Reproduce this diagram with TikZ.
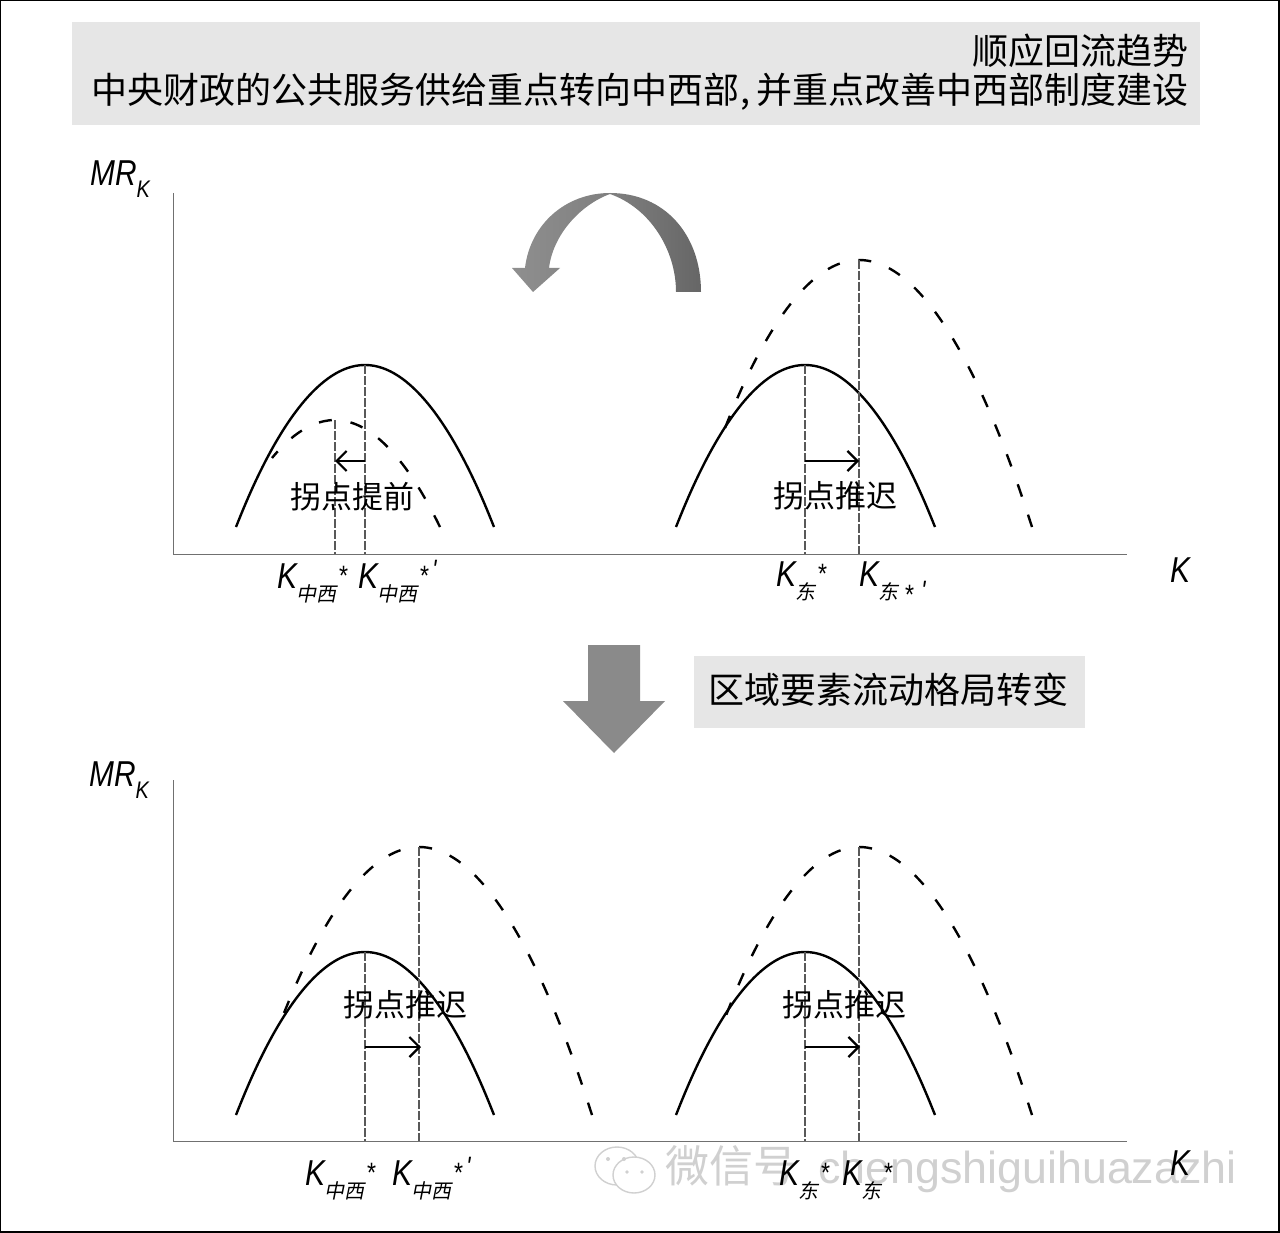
\documentclass[tikz,border=0pt]{standalone}
\usepackage{fontspec}
\usetikzlibrary{arrows.meta}
\setmainfont{Liberation Sans}
\newfontfamily\cjk{Noto Sans CJK SC}
\newfontfamily\subcjk[FakeSlant=0.2]{Noto Sans CJK SC}
\newfontfamily\kfont[FakeStretch=0.83]{Liberation Sans Italic}
\definecolor{boxgray}{HTML}{E6E6E6}
\definecolor{axisgray}{HTML}{707070}
\definecolor{markgray}{HTML}{D0D0D0}
\newcommand{\kmark}[3]{K\hspace{-1pt}\raisebox{-13pt}{\fontsize{20}{22}\subcjk #1}\hspace{2pt}\raisebox{#2}{\fontsize{28}{30}\kfont *\hspace{4pt}#3}}
\begin{document}
\begin{tikzpicture}[x=1pt,y=-1pt,
	axisline/.style = {draw=axisgray, line width=1pt},
	curveline/.style = {line width=2.4pt},
	dashcurve/.style = {line width=2.4pt, dash pattern=on 13pt off 19pt},
	guide/.style = {draw=black!65, line width=1.1pt, dash pattern=on 9pt off 2pt},
	kshift/.style = {line width=2.2pt, -{Straight Barb[length=10pt,width=20pt]}},
	turntext/.style = {font=\fontsize{31}{34}\cjk, inner sep=0pt},
	headtext/.style = {font=\fontsize{36}{40}\cjk, inner sep=0pt},
	kmain/.style = {font=\fontsize{36}{40}\kfont, anchor=base west, inner sep=0pt},
	blockgray/.style = {fill=black!46, draw=none}]
	\useasboundingbox (0,0) rectangle (1280,1233);
	\draw[line width=1.6pt] (0.5,0.5) rectangle (1279,1232);

	\fill[boxgray] (72,22) rectangle (1200,125);
	\fill[boxgray] (694,656) rectangle (1085,728);
	\node[headtext, anchor=east] (title1) at (1189,51) {顺应回流趋势};
	\node[headtext, anchor=east] (title2) at (1189,92) {中央财政的公共服务供给重点转向中西部{\kern1pt,\kern6pt}并重点改善中西部制度建设};
	\node[headtext] (flow) at (888,690) {区域要素流动格局转变};

	% watermark
	\draw[markgray, line width=1.4pt] (617,1166) ellipse (22pt and 19pt);
	\draw[markgray, line width=1.4pt, fill=white] (634,1175) ellipse (21pt and 18pt);
	\fill[markgray] (608,1159) circle (2pt) (624,1159) circle (2pt) (627,1172) circle (1.8pt) (642,1172) circle (1.8pt);
	\node[font=\fontsize{44}{48}\cjk, text=markgray, anchor=base west, inner sep=0pt] (markcn) at (665,1182) {微信号};
	\node[font=\fontsize{44.8}{48}\selectfont, text=markgray, anchor=base west, inner sep=0pt] (markname) at (818,1183) {chengshiguihuazazhi};

	% upper panel
	\coordinate (o1) at (173,554);
	\coordinate (y1) at (173,193);
	\coordinate (x1) at (1127,554);
	\draw[axisline] (y1) -- (o1) -- (x1);
	\node[kmain] (mr1) at (90,186) {MR\raisebox{-12pt}{\fontsize{24}{26}\kfont K}};
	\node[kmain] (k1) at (1170,582) {K};

	\coordinate (a1l) at (236,527);
	\coordinate (a1t) at (365,365);
	\coordinate (a1r) at (494,527);
	\coordinate (a1f) at (365,554);
	\coordinate (b1l) at (272,458);
	\coordinate (b1t) at (335,420);
	\coordinate (b1r) at (440,527);
	\coordinate (b1f) at (335,554);
	\coordinate (c1l) at (676,527);
	\coordinate (c1t) at (805,365);
	\coordinate (c1r) at (935,527);
	\coordinate (c1f) at (805,554);
	\coordinate (d1l) at (725,428);
	\coordinate (d1t) at (859,260);
	\coordinate (d1r) at (1032,527);
	\coordinate (d1f) at (859,554);
	\draw[curveline] (a1l) parabola bend (a1t) (a1r);
	\draw[curveline] (c1l) parabola bend (c1t) (c1r);
	\draw[dashcurve] (b1r) parabola bend (b1t) (b1l);
	\draw[dashcurve] (d1r) parabola bend (d1t) (d1l);
	\draw[guide] (a1t) -- (a1f);
	\draw[guide] (b1t) -- (b1f);
	\draw[guide] (c1t) -- (c1f);
	\draw[guide] (d1t) -- (d1f);

	\coordinate (s1a) at (365,461);
	\coordinate (s1b) at (335,461);
	\coordinate (s2a) at (805,461);
	\coordinate (s2b) at (859,461);
	\draw[kshift] (s1a) -- (s1b);
	\draw[kshift] (s2a) -- (s2b);
	\node[turntext] (t1) at (352,497) {拐点提前};
	\node[turntext] (t2) at (835.5,496) {拐点推迟};

	\node[kmain] (k1a) at (277,588) {\kmark{中西}{3pt}{}};
	\node[kmain] (k1b) at (358,588) {\kmark{中西}{3pt}{\raisebox{6pt}{'}}};
	\node[kmain] (k1c) at (776,586) {\kmark{东}{3pt}{}};
	\node[kmain] (k1d) at (859,586) {\kmark{东\hspace{4pt}}{-18pt}{\hspace{4pt}\raisebox{4pt}{'}}};

	% turning arrow
	\shade[left color=black!44, right color=black!50] (610,193) .. controls (565,193) and (530,225) .. (525,268)
		-- (512,268) -- (533,292) -- (560,268) -- (549,268)
		.. controls (553,235) and (580,205) .. (610,194) -- cycle;
	\shade[left color=black!50, right color=black!60] (610,193) .. controls (665,193) and (701,235) .. (701,292)
		-- (676,292) .. controls (676,250) and (650,208) .. (610,194) -- cycle;

	% down arrow
	\fill[blockgray] (588,645) -- (640,645) -- (640,701) -- (665,701) -- (614,753) -- (563,701) -- (588,701) -- cycle;

	% lower panel
	\coordinate (o2) at (173,1141);
	\coordinate (y2) at (173,780);
	\coordinate (x2) at (1127,1141);
	\draw[axisline] (y2) -- (o2) -- (x2);
	\node[kmain] (mr2) at (89,786) {MR\raisebox{-12pt}{\fontsize{24}{26}\kfont K}};
	\node[kmain] (k2) at (1170,1175) {K};

	\coordinate (a2l) at (236,1115);
	\coordinate (a2t) at (365,952);
	\coordinate (a2r) at (494,1115);
	\coordinate (a2f) at (365,1141);
	\coordinate (b2l) at (282,1018);
	\coordinate (b2t) at (419,847);
	\coordinate (b2r) at (592,1115);
	\coordinate (b2f) at (419,1141);
	\coordinate (c2l) at (676,1115);
	\coordinate (c2t) at (805,952);
	\coordinate (c2r) at (935,1115);
	\coordinate (c2f) at (805,1141);
	\coordinate (d2l) at (725,1018);
	\coordinate (d2t) at (859,847);
	\coordinate (d2r) at (1032,1115);
	\coordinate (d2f) at (859,1141);
	\draw[curveline] (a2l) parabola bend (a2t) (a2r);
	\draw[curveline] (c2l) parabola bend (c2t) (c2r);
	\draw[dashcurve] (b2r) parabola bend (b2t) (b2l);
	\draw[dashcurve] (d2r) parabola bend (d2t) (d2l);
	\draw[guide] (a2t) -- (a2f);
	\draw[guide] (b2t) -- (b2f);
	\draw[guide] (c2t) -- (c2f);
	\draw[guide] (d2t) -- (d2f);

	\coordinate (s3a) at (365,1047);
	\coordinate (s3b) at (421,1047);
	\coordinate (s4a) at (805,1047);
	\coordinate (s4b) at (860,1047);
	\draw[kshift] (s3a) -- (s3b);
	\draw[kshift] (s4a) -- (s4b);
	\node[turntext] (t3) at (405.5,1005) {拐点推迟};
	\node[turntext] (t4) at (844.5,1005) {拐点推迟};

	\node[kmain] (k2a) at (305,1185) {\kmark{中西}{3pt}{}};
	\node[kmain] (k2b) at (392,1185) {\kmark{中西}{3pt}{\raisebox{6pt}{'}}};
	\node[kmain] (k2c) at (779,1185) {\kmark{东}{3pt}{}};
	\node[kmain] (k2d) at (842,1185) {\kmark{东}{3pt}{}};
\end{tikzpicture}
\end{document}
